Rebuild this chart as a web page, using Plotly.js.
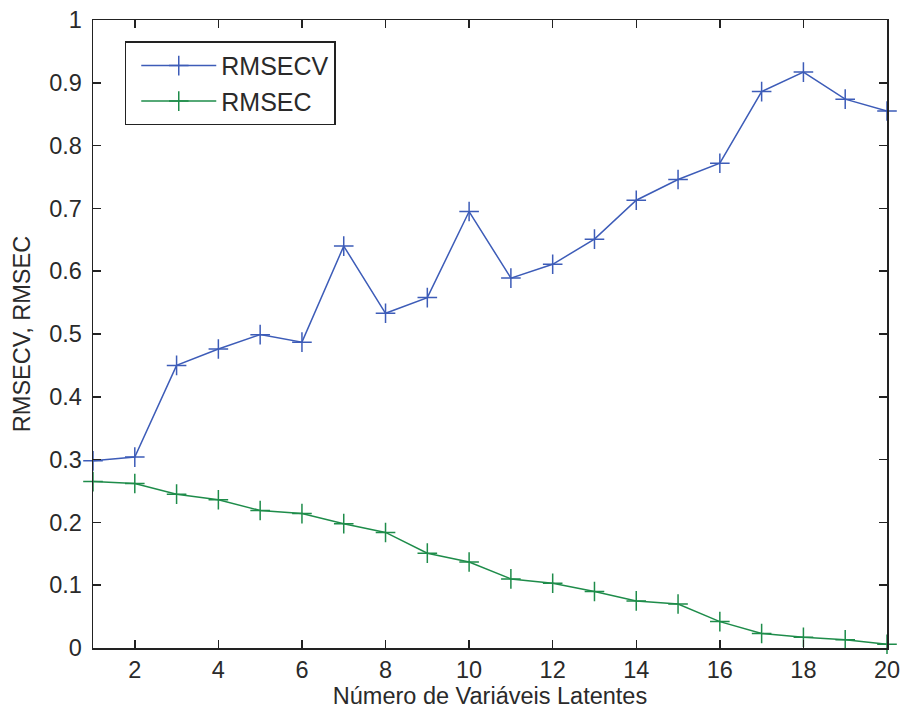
<!DOCTYPE html>
<html>
<head>
<meta charset="utf-8">
<script src="https://cdn.plot.ly/plotly-3.0.1.min.js"></script>
<style>html,body{margin:0;padding:0;background:#fff;}</style>
</head>
<body>
<div id="chart" style="width:901px;height:711px;"></div>
<script>
const latentVars = [1,2,3,4,5,6,7,8,9,10,11,12,13,14,15,16,17,18,19,20];
const rmsecv = [0.298,0.304,0.450,0.476,0.499,0.487,0.640,0.533,0.558,0.695,0.589,0.611,0.651,0.713,0.746,0.772,0.886,0.917,0.874,0.855];
const rmsec  = [0.265,0.262,0.245,0.236,0.219,0.214,0.198,0.184,0.151,0.137,0.110,0.103,0.090,0.075,0.070,0.042,0.023,0.017,0.013,0.006];
const xTicks = [2,4,6,8,10,12,14,16,18,20];
const yTicks = [0,0.1,0.2,0.3,0.4,0.5,0.6,0.7,0.8,0.9,1];
const yTickText = ['0','0.1','0.2','0.3','0.4','0.5','0.6','0.7','0.8','0.9','1'];

const blue = '#3d5cb8';
const green = '#1e8c4a';
const font = {family: 'Liberation Sans, Arial, sans-serif', size: 23.5, color: '#2a2a2a'};
const legendFont = {family: 'Liberation Sans, Arial, sans-serif', size: 25, color: '#2a2a2a'};

const traces = [
  {x: latentVars, y: rmsecv, name: 'RMSECV', type: 'scatter', mode: 'lines+markers',
   line: {color: blue, width: 1.5},
   marker: {symbol: 'cross-thin-open', size: 14, color: blue, line: {color: blue, width: 1.5}},
   cliponaxis: false},
  {x: latentVars, y: rmsec, name: 'RMSEC', type: 'scatter', mode: 'lines+markers',
   line: {color: green, width: 1.5},
   marker: {symbol: 'cross-thin-open', size: 14, color: green, line: {color: green, width: 1.5}},
   cliponaxis: false}
];

const axisCommon = {
  showline: true, linecolor: '#222', linewidth: 1.5, mirror: 'ticks',
  ticks: 'inside', ticklen: 8, tickwidth: 1.5, tickcolor: '#222',
  showgrid: false, zeroline: false, tickfont: font
};

const layout = {
  width: 901, height: 711,
  margin: {l: 93, r: 14, t: 20, b: 63},
  paper_bgcolor: '#fff', plot_bgcolor: '#fff',
  font: font,
  showlegend: true,
  legend: {x: 0.04, y: 0.966, xanchor: 'left', yanchor: 'top',
    itemwidth: 75, indentation: 10,
    bordercolor: '#222', borderwidth: 1.5, bgcolor: '#fff', font: legendFont},
  xaxis: Object.assign({}, axisCommon, {
    range: [1, 20], tickvals: xTicks, ticktext: xTicks.map(String),
    title: {text: 'Número de Variáveis Latentes', font: font, standoff: 6}
  }),
  yaxis: Object.assign({}, axisCommon, {
    range: [0, 1], tickvals: yTicks, ticktext: yTickText,
    ticklabelstandoff: 5,
    title: {text: 'RMSECV, RMSEC', font: font, standoff: 12}
  })
};

Plotly.newPlot('chart', traces, layout, {displayModeBar: false, staticPlot: true});
</script>
</body>
</html>
